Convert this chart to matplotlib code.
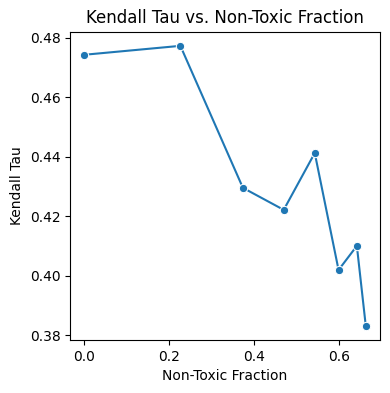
import matplotlib
matplotlib.use("Agg")
import matplotlib.pyplot as plt

non_toxic_fraction = [0.0, 0.226, 0.373, 0.469, 0.542, 0.598, 0.641, 0.662]
kendall_tau = [0.4742, 0.4772, 0.4295, 0.4221, 0.4412, 0.4019, 0.4100, 0.3831]

fig = plt.figure(figsize=(3.9, 3.93), dpi=100)
ax = fig.add_axes([0.18, 0.135, 0.794, 0.784])
ax.plot(non_toxic_fraction, kendall_tau, color='#1f77b4', linewidth=1.5,
        marker='o', markersize=6, markeredgecolor='white', markeredgewidth=0.75)
ax.set_title("Kendall Tau vs. Non-Toxic Fraction")
ax.set_xlabel("Non-Toxic Fraction")
ax.set_ylabel("Kendall Tau")
ax.set_xticks([0.0, 0.2, 0.4, 0.6])
ax.set_yticks([0.38, 0.40, 0.42, 0.44, 0.46, 0.48])
fig.savefig("out.png", dpi=100)
